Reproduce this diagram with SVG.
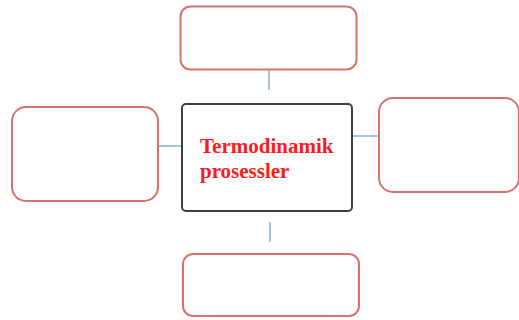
<svg xmlns="http://www.w3.org/2000/svg" width="519" height="320" viewBox="0 0 519 320">
<style>
.leaf{fill:#fff;stroke:#D9716F;stroke-width:2}
.core{fill:#fff;stroke:#3F3F3F;stroke-width:2}
.con{stroke:#A3C2E4;stroke-width:2;fill:none}
.lbl{font-family:"Liberation Serif",serif;font-weight:bold;font-size:21px;fill:#FF1A1A}
</style>
<rect width="519" height="320" fill="#fff"/>
<g id="connectors">
<line class="con" x1="269" y1="70" x2="269" y2="90"/>
<line class="con" x1="158" y1="146" x2="182" y2="146"/>
<line class="con" x1="352" y1="136" x2="379" y2="136"/>
<line class="con" x1="270" y1="222" x2="270" y2="242"/>
</g>
<g id="top"><rect class="leaf" x="180.5" y="6.5" width="176" height="63" rx="10"/></g>
<g id="left"><rect class="leaf" x="12" y="107" width="146" height="94" rx="14"/></g>
<g id="right"><rect class="leaf" x="379" y="98" width="140" height="94" rx="14"/></g>
<g id="bottom"><rect class="leaf" x="183" y="254" width="176" height="62" rx="10"/></g>
<g id="center">
<rect class="core" x="182" y="104" width="170" height="107" rx="4"/>
<text class="lbl" x="200" y="153">Termodinamik</text>
<text class="lbl" x="200" y="178">prosessler</text>
</g>
</svg>
